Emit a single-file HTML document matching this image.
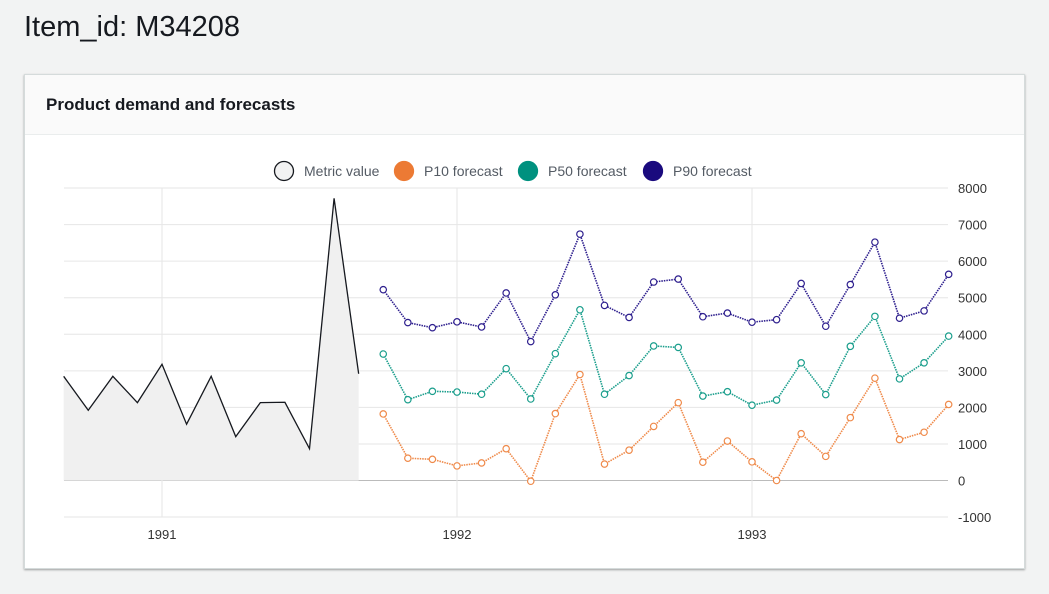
<!DOCTYPE html>
<html><head><meta charset="utf-8"><style>
body{margin:0;width:1049px;height:594px;background:#f2f3f3;font-family:"Liberation Sans",sans-serif;overflow:hidden;position:relative}
#t{position:absolute;left:24px;top:11px;font-size:29px;color:#16191f}
#card{position:absolute;left:24px;top:74px;width:1001px;height:495px;background:#fff;box-shadow:0 1px 2px rgba(0,0,0,.35);border:1px solid #d5dbdb;box-sizing:border-box}
#hd{height:60px;background:#fafafa;border-bottom:1px solid #eaeded;box-sizing:border-box;padding:20px 21px;font-weight:bold;font-size:17px;color:#16191f}
svg{position:absolute;left:0;top:0}
</style></head><body>
<div id="t">Item_id: M34208</div>
<div id="card"><div id="hd">Product demand and forecasts</div></div>
<svg id="c" width="1049" height="594" font-family="Liberation Sans, sans-serif"></svg>
<script>
const metric=[2850,1920,2850,2130,3180,1540,2850,1200,2130,2140,870,7720,2920];
const p90=[5220,4320,4180,4340,4200,5130,3800,5080,6740,4790,4460,5430,5510,4480,4580,4330,4400,5390,4220,5360,6520,4440,4640,5640];
const p50=[3460,2210,2440,2420,2360,3060,2230,3470,4670,2360,2870,3680,3640,2310,2430,2060,2200,3220,2350,3670,4490,2780,3220,3950];
const p10=[1820,610,580,400,480,870,-20,1830,2900,450,830,1480,2130,500,1080,510,0,1280,660,1720,2800,1120,1320,2080];
const yTicks=[8000,7000,6000,5000,4000,3000,2000,1000,0,-1000];
const years=[1991,1992,1993];
const metricStart=1990+8/12, fcStart=1991+9/12;
const X=t=>162+(t-1991)*295, Y=v=>480.5-v*0.036556;
const L=64,R=948;
const s=document.getElementById('c'),NS='http://www.w3.org/2000/svg';
function el(n,a,p){const e=document.createElementNS(NS,n);for(const k in a)e.setAttribute(k,a[k]);(p||s).appendChild(e);return e;}
yTicks.forEach(v=>{const g=el('line',{x1:L,x2:R,y1:Y(v),y2:Y(v),stroke:v===0?'#bbb':'#e6e6e6'});

const t=el('text',{x:958,y:Y(v)+5,'font-size':13,fill:'#333'});t.textContent=v;
});
years.forEach(y=>{const g=el('line',{x1:X(y),x2:X(y),y1:188,y2:517,stroke:'#e6e6e6'});

const t=el('text',{x:X(y),y:539,'font-size':13,fill:'#333','text-anchor':'middle'});t.textContent=y;
});
const mp=metric.map((v,i)=>[X(metricStart+i/12),Y(v)]);
const area=el('path',{d:'M'+mp[0][0]+','+Y(0)+mp.map(p=>'L'+p).join('')+'L'+mp[mp.length-1][0]+','+Y(0)+'Z',fill:'#f0f0f0'});

const ml=el('polyline',{points:mp.map(p=>p.join(',')).join(' '),fill:'none',stroke:'#16191f','stroke-width':1.3});

[[p90,'#2e1f8e','p90'],[p50,'#1a9e8c','p50'],[p10,'#ef8a4a','p10']].forEach(([d,c,n])=>{
const pts=d.map((v,i)=>[X(fcStart+i/12),Y(v)]);
const l=el('polyline',{points:pts.map(p=>p.join(',')).join(' '),fill:'none',stroke:c,'stroke-width':1.6,'stroke-dasharray':'1.5 1'});

pts.forEach(p=>{const m=el('circle',{cx:p[0],cy:p[1],r:3.2,fill:'#fff',stroke:c,'stroke-width':1.2});
});});
const leg=[['Metric value','#f2f2f2','#16191f',274],['P10 forecast','#ec7a34','#ec7a34',394],['P50 forecast','#00917f','#00917f',518],['P90 forecast','#1a0a7e','#1a0a7e',643]];
leg.forEach(([t,f,st,x])=>{const c=el('circle',{cx:x+10,cy:171,r:9.5,fill:f,stroke:st,'stroke-width':1.3});

const tx=el('text',{x:x+30,y:176,'font-size':14,fill:'#545b64'});tx.textContent=t;
});
</script>
</body></html>
